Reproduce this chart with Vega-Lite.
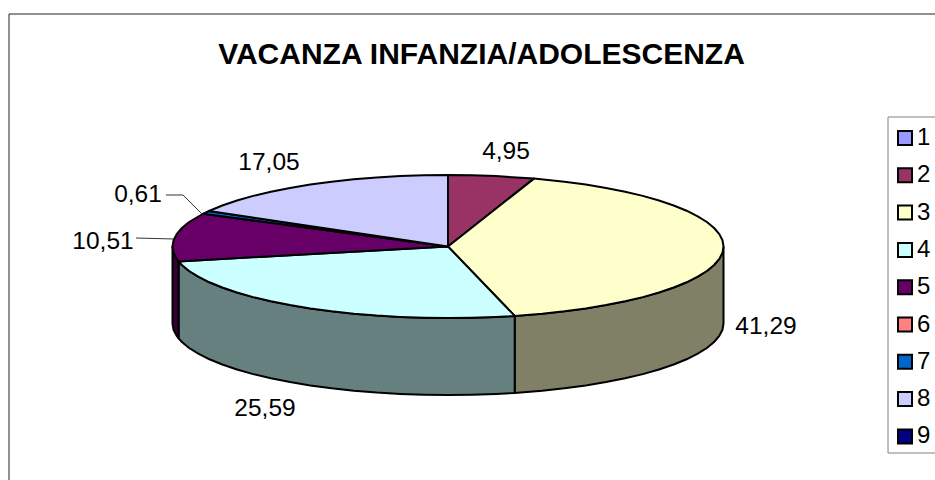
{"$schema":"https://vega.github.io/schema/vega-lite/v6.json","width":935,"height":480,"padding":0,"autosize":{"type":"none"},"background":"white","view":{"stroke":null},
"title":{"text":"VACANZA INFANZIA/ADOLESCENZA","font":"Liberation Sans","fontSize":30,"fontWeight":"bold","color":"black","anchor":"middle","dx":14,"offset":-100,"baseline":"bottom"},
"layer":[
{"data":{"values":[{"f":"3","o":1,"x":723.5,"y":246.5},{"f":"3","o":2,"x":722.5,"y":252.7},{"f":"3","o":3,"x":719.3,"y":258.9},{"f":"3","o":4,"x":714.1,"y":265},{"f":"3","o":5,"x":706.9,"y":271},{"f":"3","o":6,"x":697.7,"y":276.7},{"f":"3","o":7,"x":686.6,"y":282.3},{"f":"3","o":8,"x":673.7,"y":287.5},{"f":"3","o":9,"x":659,"y":292.5},{"f":"3","o":10,"x":642.8,"y":297.1},{"f":"3","o":11,"x":625.1,"y":301.3},{"f":"3","o":12,"x":606,"y":305.1},{"f":"3","o":13,"x":585.8,"y":308.4},{"f":"3","o":14,"x":564.4,"y":311.3},{"f":"3","o":15,"x":542.2,"y":313.7},{"f":"3","o":16,"x":514.7,"y":315.9},{"f":"3","o":17,"x":514.7,"y":392.9},{"f":"3","o":18,"x":542.2,"y":390.7},{"f":"3","o":19,"x":564.4,"y":388.3},{"f":"3","o":20,"x":585.8,"y":385.4},{"f":"3","o":21,"x":606,"y":382.1},{"f":"3","o":22,"x":625.1,"y":378.3},{"f":"3","o":23,"x":642.8,"y":374.1},{"f":"3","o":24,"x":659,"y":369.5},{"f":"3","o":25,"x":673.7,"y":364.5},{"f":"3","o":26,"x":686.6,"y":359.3},{"f":"3","o":27,"x":697.7,"y":353.7},{"f":"3","o":28,"x":706.9,"y":348},{"f":"3","o":29,"x":714.1,"y":342},{"f":"3","o":30,"x":719.3,"y":335.9},{"f":"3","o":31,"x":722.5,"y":329.7},{"f":"3","o":32,"x":723.5,"y":323.5},{"f":"3","o":33,"x":723.5,"y":246.5},
{"f":"4","o":1,"x":514.7,"y":315.9},{"f":"4","o":2,"x":495.8,"y":316.9},{"f":"4","o":3,"x":472,"y":317.7},{"f":"4","o":4,"x":448,"y":318},{"f":"4","o":5,"x":424,"y":317.7},{"f":"4","o":6,"x":400.2,"y":316.9},{"f":"4","o":7,"x":376.7,"y":315.6},{"f":"4","o":8,"x":353.8,"y":313.7},{"f":"4","o":9,"x":331.6,"y":311.3},{"f":"4","o":10,"x":310.3,"y":308.4},{"f":"4","o":11,"x":290,"y":305.1},{"f":"4","o":12,"x":270.9,"y":301.3},{"f":"4","o":13,"x":253.2,"y":297.1},{"f":"4","o":14,"x":237,"y":292.5},{"f":"4","o":15,"x":222.3,"y":287.5},{"f":"4","o":16,"x":209.4,"y":282.3},{"f":"4","o":17,"x":198.3,"y":276.7},{"f":"4","o":18,"x":189.1,"y":271},{"f":"4","o":19,"x":181.9,"y":265},{"f":"4","o":20,"x":178.6,"y":261.4},{"f":"4","o":21,"x":178.6,"y":338.4},{"f":"4","o":22,"x":181.9,"y":342},{"f":"4","o":23,"x":189.1,"y":348},{"f":"4","o":24,"x":198.3,"y":353.7},{"f":"4","o":25,"x":209.4,"y":359.3},{"f":"4","o":26,"x":222.3,"y":364.5},{"f":"4","o":27,"x":237,"y":369.5},{"f":"4","o":28,"x":253.2,"y":374.1},{"f":"4","o":29,"x":270.9,"y":378.3},{"f":"4","o":30,"x":290,"y":382.1},{"f":"4","o":31,"x":310.3,"y":385.4},{"f":"4","o":32,"x":331.6,"y":388.3},{"f":"4","o":33,"x":353.8,"y":390.7},{"f":"4","o":34,"x":376.7,"y":392.6},{"f":"4","o":35,"x":400.2,"y":393.9},{"f":"4","o":36,"x":424,"y":394.7},{"f":"4","o":37,"x":448,"y":395},{"f":"4","o":38,"x":472,"y":394.7},{"f":"4","o":39,"x":495.8,"y":393.9},{"f":"4","o":40,"x":514.7,"y":392.9},{"f":"4","o":41,"x":514.7,"y":315.9},
{"f":"5","o":1,"x":178.6,"y":261.4},{"f":"5","o":2,"x":176.7,"y":258.9},{"f":"5","o":3,"x":173.5,"y":252.7},{"f":"5","o":4,"x":172.5,"y":246.5},{"f":"5","o":5,"x":172.5,"y":323.5},{"f":"5","o":6,"x":173.5,"y":329.7},{"f":"5","o":7,"x":176.7,"y":335.9},{"f":"5","o":8,"x":178.6,"y":338.4},{"f":"5","o":9,"x":178.6,"y":261.4}]},
"mark":{"type":"line","stroke":"black","strokeWidth":2,"strokeJoin":"round"},
"encoding":{"x":{"field":"x","type":"quantitative","scale":{"domain":[0,935],"nice":false,"zero":false},"axis":null},"y":{"field":"y","type":"quantitative","scale":{"domain":[480,0],"nice":false,"zero":false},"axis":null},"order":{"field":"o"},"fill":{"field":"f","type":"nominal","scale":{"domain":["3","4","5"],"range":["#808066","#668080","#330033"]},"legend":null}}},
{"data":{"values":[{"f":"2","o":1,"x":448,"y":246.5},{"f":"2","o":2,"x":448,"y":175},{"f":"2","o":3,"x":472,"y":175.3},{"f":"2","o":4,"x":495.8,"y":176.1},{"f":"2","o":5,"x":534,"y":178.6},{"f":"2","o":6,"x":448,"y":246.5},
{"f":"3","o":1,"x":448,"y":246.5},{"f":"3","o":2,"x":534,"y":178.6},{"f":"3","o":3,"x":564.4,"y":181.7},{"f":"3","o":4,"x":585.8,"y":184.6},{"f":"3","o":5,"x":606,"y":187.9},{"f":"3","o":6,"x":625.1,"y":191.7},{"f":"3","o":7,"x":642.8,"y":195.9},{"f":"3","o":8,"x":659,"y":200.5},{"f":"3","o":9,"x":673.7,"y":205.5},{"f":"3","o":10,"x":686.6,"y":210.7},{"f":"3","o":11,"x":697.7,"y":216.3},{"f":"3","o":12,"x":706.9,"y":222},{"f":"3","o":13,"x":714.1,"y":228},{"f":"3","o":14,"x":719.3,"y":234.1},{"f":"3","o":15,"x":722.5,"y":240.3},{"f":"3","o":16,"x":723.5,"y":246.5},{"f":"3","o":17,"x":722.5,"y":252.7},{"f":"3","o":18,"x":719.3,"y":258.9},{"f":"3","o":19,"x":714.1,"y":265},{"f":"3","o":20,"x":706.9,"y":271},{"f":"3","o":21,"x":697.7,"y":276.7},{"f":"3","o":22,"x":686.6,"y":282.3},{"f":"3","o":23,"x":673.7,"y":287.5},{"f":"3","o":24,"x":659,"y":292.5},{"f":"3","o":25,"x":642.8,"y":297.1},{"f":"3","o":26,"x":625.1,"y":301.3},{"f":"3","o":27,"x":606,"y":305.1},{"f":"3","o":28,"x":585.8,"y":308.4},{"f":"3","o":29,"x":564.4,"y":311.3},{"f":"3","o":30,"x":542.2,"y":313.7},{"f":"3","o":31,"x":514.7,"y":315.9},{"f":"3","o":32,"x":448,"y":246.5},
{"f":"4","o":1,"x":448,"y":246.5},{"f":"4","o":2,"x":514.7,"y":315.9},{"f":"4","o":3,"x":495.8,"y":316.9},{"f":"4","o":4,"x":472,"y":317.7},{"f":"4","o":5,"x":448,"y":318},{"f":"4","o":6,"x":424,"y":317.7},{"f":"4","o":7,"x":400.2,"y":316.9},{"f":"4","o":8,"x":376.7,"y":315.6},{"f":"4","o":9,"x":353.8,"y":313.7},{"f":"4","o":10,"x":331.6,"y":311.3},{"f":"4","o":11,"x":310.3,"y":308.4},{"f":"4","o":12,"x":290,"y":305.1},{"f":"4","o":13,"x":270.9,"y":301.3},{"f":"4","o":14,"x":253.2,"y":297.1},{"f":"4","o":15,"x":237,"y":292.5},{"f":"4","o":16,"x":222.3,"y":287.5},{"f":"4","o":17,"x":209.4,"y":282.3},{"f":"4","o":18,"x":198.3,"y":276.7},{"f":"4","o":19,"x":189.1,"y":271},{"f":"4","o":20,"x":181.9,"y":265},{"f":"4","o":21,"x":178.6,"y":261.4},{"f":"4","o":22,"x":448,"y":246.5},
{"f":"5","o":1,"x":448,"y":246.5},{"f":"5","o":2,"x":178.6,"y":261.4},{"f":"5","o":3,"x":176.7,"y":258.9},{"f":"5","o":4,"x":173.5,"y":252.7},{"f":"5","o":5,"x":172.5,"y":246.5},{"f":"5","o":6,"x":173.5,"y":240.3},{"f":"5","o":7,"x":176.7,"y":234.1},{"f":"5","o":8,"x":181.9,"y":228},{"f":"5","o":9,"x":189.1,"y":222},{"f":"5","o":10,"x":203,"y":213.8},{"f":"5","o":11,"x":448,"y":246.5},
{"f":"7","o":1,"x":448,"y":246.5},{"f":"7","o":2,"x":203,"y":213.8},{"f":"7","o":3,"x":209,"y":211},{"f":"7","o":4,"x":448,"y":246.5},
{"f":"8","o":1,"x":448,"y":246.5},{"f":"8","o":2,"x":209,"y":211},{"f":"8","o":3,"x":222.3,"y":205.5},{"f":"8","o":4,"x":237,"y":200.5},{"f":"8","o":5,"x":253.2,"y":195.9},{"f":"8","o":6,"x":270.9,"y":191.7},{"f":"8","o":7,"x":290,"y":187.9},{"f":"8","o":8,"x":310.3,"y":184.6},{"f":"8","o":9,"x":331.6,"y":181.7},{"f":"8","o":10,"x":353.8,"y":179.3},{"f":"8","o":11,"x":376.7,"y":177.4},{"f":"8","o":12,"x":400.2,"y":176.1},{"f":"8","o":13,"x":424,"y":175.3},{"f":"8","o":14,"x":448,"y":175},{"f":"8","o":15,"x":448,"y":246.5}]},
"mark":{"type":"line","stroke":"black","strokeWidth":2,"strokeJoin":"round"},
"encoding":{"x":{"field":"x","type":"quantitative","scale":{"domain":[0,935],"nice":false,"zero":false},"axis":null},"y":{"field":"y","type":"quantitative","scale":{"domain":[480,0],"nice":false,"zero":false},"axis":null},"order":{"field":"o"},"fill":{"field":"f","type":"nominal","scale":{"domain":["1","2","3","4","5","6","7","8","9"],"range":["#9999FF","#993366","#FFFFCC","#CCFFFF","#660066","#FF8080","#0066CC","#CCCCFF","#000080"]},"legend":{"orient":"none","legendX":893,"legendY":126,"title":null,"symbolType":"square","symbolSize":196,"symbolStrokeColor":"black","symbolStrokeWidth":2,"labelFont":"Liberation Sans","labelFontSize":24,"labelColor":"black","labelOffset":0,"rowPadding":13.3,"padding":0,"strokeColor":null}}}},
{"data":{"values":[{"g":"cornice","o":1,"x":935,"y":14},{"g":"cornice","o":2,"x":9,"y":14},{"g":"cornice","o":3,"x":9,"y":480},{"g":"legenda","o":1,"x":935,"y":117},{"g":"legenda","o":2,"x":888,"y":117},{"g":"legenda","o":3,"x":888,"y":453},{"g":"legenda","o":4,"x":935,"y":453},{"g":"guida1","o":1,"x":166,"y":195},{"g":"guida1","o":2,"x":183,"y":195},{"g":"guida1","o":3,"x":203,"y":215},{"g":"guida2","o":1,"x":136,"y":238},{"g":"guida2","o":2,"x":174,"y":239}]},
"mark":{"type":"line","strokeWidth":1},
"encoding":{"x":{"field":"x","type":"quantitative","scale":{"domain":[0,935],"nice":false,"zero":false},"axis":null},"y":{"field":"y","type":"quantitative","scale":{"domain":[480,0],"nice":false,"zero":false},"axis":null},"order":{"field":"o"},"detail":{"field":"g"},"stroke":{"field":"g","type":"nominal","scale":{"domain":["cornice","legenda","guida1","guida2"],"range":["#222222","#808080","#333333","#333333"]},"legend":null},"strokeWidth":{"field":"g","type":"nominal","scale":{"domain":["cornice","legenda","guida1","guida2"],"range":[2,1.5,1,1]},"legend":null}}},
{"data":{"values":[{"serie":"2","valore":"4,95","x":506,"y":152},{"serie":"3","valore":"41,29","x":766,"y":327},{"serie":"4","valore":"25,59","x":265,"y":409},{"serie":"5","valore":"10,51","x":103,"y":242},{"serie":"7","valore":"0,61","x":138,"y":195},{"serie":"8","valore":"17,05","x":269,"y":163}]},
"mark":{"type":"text","font":"Liberation Sans","fontSize":24.5,"color":"black","align":"center","baseline":"middle"},
"encoding":{"x":{"field":"x","type":"quantitative","scale":{"domain":[0,935],"nice":false,"zero":false},"axis":null},"y":{"field":"y","type":"quantitative","scale":{"domain":[480,0],"nice":false,"zero":false},"axis":null},"text":{"field":"valore","type":"nominal"}}}
],
"resolve":{"scale":{"fill":"independent","stroke":"independent","strokeWidth":"independent"}}}
